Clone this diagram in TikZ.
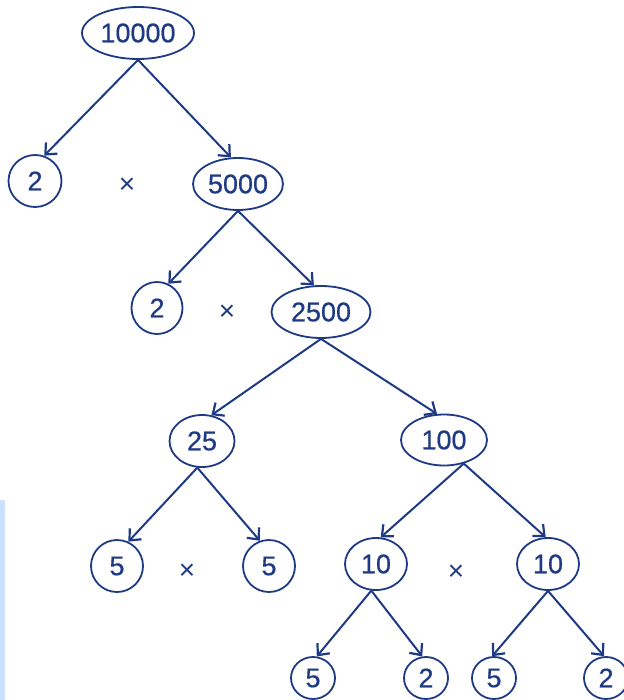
\documentclass[tikz,border=0pt]{standalone}
\usepackage{fontspec}
\setmainfont{Liberation Sans}
\newfontfamily\treefont[FakeBold=0.6]{Liberation Sans}
\usetikzlibrary{shapes.geometric,arrows.meta}
\definecolor{inkblue}{RGB}{30,58,132}
\definecolor{barblue}{RGB}{204,224,255}
\tikzset{%
  fnode/.style={draw=inkblue,shape=ellipse,text=inkblue,line width=0.9pt,inner sep=0pt,minimum height=26pt,font=\treefont\fontsize{13.5}{16}\selectfont},
  lnode/.style={fnode,minimum width=22pt,minimum height=21pt},
  tsign/.style={text=inkblue,inner sep=0pt,font=\fontsize{14}{16}\selectfont},
  fedge/.style={draw=inkblue,line width=1pt,-{Straight Barb[length=4.5pt,width=8pt,line width=1.1pt]}}
}
\begin{document}
\begin{tikzpicture}[x=0.5pt,y=-0.5pt]
    \useasboundingbox (0,0) rectangle (624,700);
    \fill[barblue] (0,500) rectangle (5,700);
    \node[fnode,minimum width=56pt] (f_10000) at (138,33){10000};
    \node[fnode,minimum width=26.5pt] (f_2a) at (35,181){2};
    \node[tsign] (t_1) at (127,186){×};
    \node[fnode,minimum width=45pt] (f_5000) at (238,184){5000};
    \node[fnode,minimum width=25.5pt] (f_2b) at (157,308){2};
    \node[tsign] (t_2) at (227,313){×};
    \node[fnode,minimum width=49.5pt] (f_2500) at (321,312){2500};
    \node[fnode,minimum width=32.5pt] (f_25) at (202,441){25};
    \node[fnode,minimum width=43pt,minimum height=25.5pt] (f_100) at (444,440){100};
    \node[fnode,minimum width=26pt] (f_5a) at (117,566){5};
    \node[tsign] (t_3) at (187,572){×};
    \node[fnode,minimum width=26pt] (f_5b) at (269,566){5};
    \node[fnode,minimum width=31pt] (f_10a) at (376,564){10};
    \node[tsign] (t_4) at (456,573){×};
    \node[fnode,minimum width=31pt] (f_10b) at (548,564){10};
    \node[lnode] (f_5c) at (313,678){5};
    \node[lnode] (f_2c) at (426,678){2};
    \node[lnode] (f_5d) at (494,678){5};
    \node[lnode] (f_2d) at (606,678){2};
    \draw[fedge] (f_10000.south) -- (f_2a.70);
    \draw[fedge] (f_10000.south) -- (f_5000.105);
    \draw[fedge] (f_5000.south) -- (f_2b.65);
    \draw[fedge] (f_5000.south) -- (f_2500.105);
    \draw[fedge] (f_2500.south) -- (f_25.70);
    \draw[fedge] (f_2500.south) -- (f_100.105);
    \draw[fedge] (f_25.-100) -- (f_5a.65);
    \draw[fedge] (f_25.-100) -- (f_5b.110);
    \draw[fedge] (f_100.-50) -- (f_10a.80);
    \draw[fedge] (f_100.-50) -- (f_10b.95);
    \draw[fedge] (f_10a.-100) -- (f_5c.80);
    \draw[fedge] (f_10a.-100) -- (f_2c.100);
    \draw[fedge] (f_10b.south) -- (f_5d.95);
    \draw[fedge] (f_10b.south) -- (f_2d.95);
  \end{tikzpicture}
\end{document}
